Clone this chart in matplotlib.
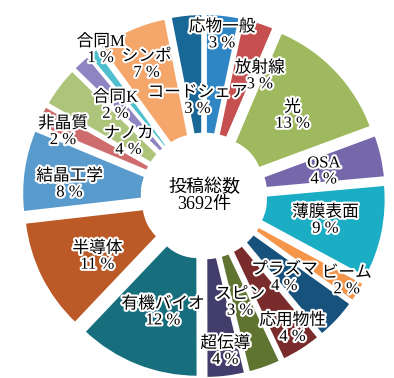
import numpy as np
import matplotlib
matplotlib.use("Agg")
import matplotlib.pyplot as plt
import matplotlib.patheffects as pe

# ── data (clockwise from 12 o'clock) ─────────────────────────────────────────
names = ["応物一般", "放射線", "光", "OSA", "薄膜表面", "ビーム", "プラズマ",
         "応用物性", "スピン", "超伝導", "有機バイオ", "半導体", "結晶工学",
         "非晶質", "ナノカ", "合同K", "合同M", "シンポ", "コードシェア"]
counts = [122, 114, 479, 155, 344, 74, 151,
          148, 118, 140, 447, 410, 299,
          74, 148, 63, 37, 255, 114]
total_label = "投稿総数\n3692件"

# ── style ─────────────────────────────────────────────────────────────────────
colors = ["#2f86c4", "#c5504f", "#9fb95e", "#7667ab", "#1badc4", "#f4954a",
          "#17527c", "#7a2b2b", "#5f7431", "#433d6b", "#176f7e", "#bb5a26",
          "#5a9bce", "#cd6b6d", "#adc57b", "#8f84c2", "#4dbfcf", "#f5a66b",
          "#196797"]
# label positions (pie radius = 1), placed by hand to avoid overlap
label_xy = [(0.11, 0.98), (0.34, 0.73), (0.54, 0.49), (0.73, 0.15),
            (0.74, -0.15), (0.87, -0.52), (0.49, -0.50), (0.54, -0.81),
            (0.22, -0.65), (0.13, -0.95), (-0.25, -0.71), (-0.65, -0.37),
            (-0.82, 0.07), (-0.86, 0.39), (-0.46, 0.33), (-0.54, 0.55),
            (-0.63, 0.89), (-0.35, 0.80), (-0.04, 0.58)]

font = ["Liberation Serif", "Noto Sans CJK JP", "DejaVu Sans"]
outline = [pe.withStroke(linewidth=3, foreground="white")]

fig = plt.figure(figsize=(3.94, 3.78), dpi=100)
ax = fig.add_axes([0, 0, 1, 1])

ax.pie(counts, colors=colors, startangle=90, counterclock=False,
       explode=[0.11] * len(counts), radius=1.0,
       wedgeprops=dict(width=0.73, edgecolor="white", linewidth=1.5))

total = sum(counts)
for name, c, (x, y) in zip(names, counts, label_xy):
    pct = round(100 * c / total)
    ax.text(x, y, f"{name}\n{pct} %", ha="center", va="center",
            fontsize=12, family=font, linespacing=1.0, path_effects=outline)

ax.text(0, 0, total_label, ha="center", va="center", fontsize=13,
        family=font, linespacing=1.0)

ax.set_aspect("auto")
ax.set_xlim(-204 / 164, 190 / 164)
ax.set_ylim(-182 / 164, 196 / 164)
ax.axis("off")

fig.savefig("out.png", dpi=100)
